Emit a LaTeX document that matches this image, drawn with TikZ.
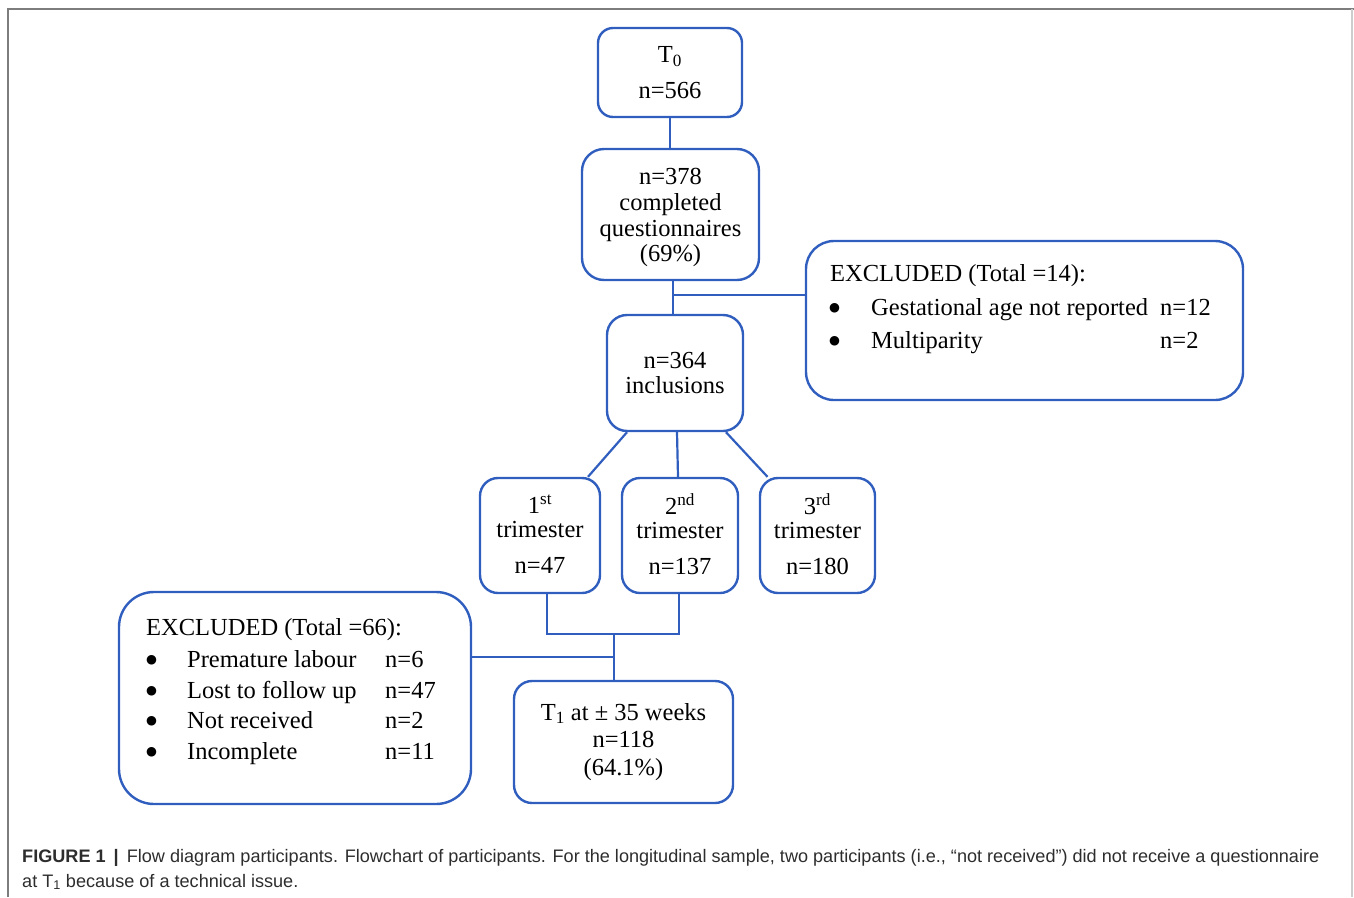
\documentclass[tikz,border=0pt]{standalone}
\usepackage{fontspec}
\setmainfont{Liberation Serif}
\newfontfamily\capfont{Liberation Sans}
\newfontfamily\bulfont{DejaVu Sans}
\usetikzlibrary{calc}
\definecolor{boxblue}{RGB}{47,94,190}
\definecolor{capgray}{RGB}{45,45,45}
\definecolor{framegray}{RGB}{125,125,125}
\definecolor{framelight}{RGB}{205,205,205}
\begin{document}
\begin{tikzpicture}[x=1pt,y=-1pt,
  box/.style={draw=boxblue, line width=2.4pt, rounded corners=#1, inner sep=0pt,
    align=center, font=\fontsize{24.5}{25.7}\selectfont},
  box/.default=18pt,
  conn/.style={draw=boxblue, line width=2.2pt},
  txt/.style={font=\fontsize{24.5}{25.7}\selectfont, inner sep=0pt, anchor=base west},
  bul/.style={font=\bulfont\fontsize{12.5}{12.5}\selectfont, inner sep=0pt, anchor=base west, yshift=4pt},
  captxt/.style={font=\capfont\fontsize{18.1}{25}\selectfont, text=capgray, inner sep=0pt, anchor=base west, align=left}]
\useasboundingbox (0,0) rectangle (1354,897);
% frame
\draw[framegray, line width=1.5pt] (8,897) -- (8,9) -- (1354,9);
\draw[framelight, line width=1.2pt] (1352,9) -- (1352,897);

% main boxes
\node[box=15pt, minimum width=144, minimum height=89] (t0) at (670,72.5)
  {T\textsubscript{0}\\[10pt] n=566};
\node[box=22pt, minimum width=177, minimum height=131] (c378) at (670.5,214.5)
  {\rule{0pt}{22.6pt}n=378\\ completed\\ questionnaires\\ (69\%)};
\node[box=20pt, minimum width=136, minimum height=116] (c364) at (675,373)
  {n=364\\ inclusions};
\node[box=18pt, minimum width=120, minimum height=115] (tri1) at (540,535.5)
  {1\textsuperscript{st}\\[-2pt] trimester\\[10pt] n=47\rule[-3pt]{0pt}{0pt}};
\node[box=18pt, minimum width=116, minimum height=115] (tri2) at (680,535.5)
  {2\textsuperscript{nd}\\[-2pt] trimester\\[10pt] n=137\rule[-3pt]{0pt}{0pt}};
\node[box=18pt, minimum width=115, minimum height=115] (tri3) at (817.5,535.5)
  {3\textsuperscript{rd}\\[-2pt] trimester\\[10pt] n=180\rule[-3pt]{0pt}{0pt}};
\node[box=18pt, minimum width=219, minimum height=122] (t1) at (623.5,742)
  {T\textsubscript{1} at ± 35 weeks\\[2pt] n=118\\[2pt] (64.1\%)};

% exclusion boxes
\node[box=28pt, minimum width=437, minimum height=159] (ex14) at (1024.5,320.5) {};
\node[txt] (ex14a) at (830,281) {EXCLUDED (Total =14):};
\node[bul] (ex14b) at (829,315) {●};
\node[txt] (ex14c) at (871,315) {Gestational age not reported};
\node[txt] (ex14d) at (1160,315) {n=12};
\node[bul] (ex14e) at (829,348) {●};
\node[txt] (ex14f) at (871,348) {Multiparity};
\node[txt] (ex14g) at (1160,348) {n=2};

\node[box=35pt, minimum width=352, minimum height=212] (ex66) at (295,698) {};
\node[txt] (ex66a) at (146,635) {EXCLUDED (Total =66):};
\node[bul] (ex66b1) at (146,667) {●};
\node[txt] (ex66c1) at (187,667) {Premature labour};
\node[txt] (ex66d1) at (385,667) {n=6};
\node[bul] (ex66b2) at (146,698) {●};
\node[txt] (ex66c2) at (187,698) {Lost to follow up};
\node[txt] (ex66d2) at (385,698) {n=47};
\node[bul] (ex66b3) at (146,728) {●};
\node[txt] (ex66c3) at (187,728) {Not received};
\node[txt] (ex66d3) at (385,728) {n=2};
\node[bul] (ex66b4) at (146,759) {●};
\node[txt] (ex66c4) at (187,759) {Incomplete};
\node[txt] (ex66d4) at (385,759) {n=11};

% connectors
\draw[conn] (t0.south) -- (t0.south |- c378.north);
\coordinate (j1) at (673,295);
\draw[conn] (c378.south -| j1) -- (c364.north -| j1);
\draw[conn] (j1) -- (ex14.west |- j1);
\draw[conn] ($(c364.south)+(-48,0)$) -- ($(tri1.north)+(48,0)$);
\draw[conn] ($(c364.south)+(2,0)$) -- ($(tri2.north)+(-2,0)$);
\draw[conn] ($(c364.south)+(51,0)$) -- ($(tri3.north)+(-50,0)$);
\coordinate (j2) at (547,634);
\coordinate (j3) at (679,634);
\coordinate (j4) at (614,634);
\coordinate (j5) at (614,657);
\draw[conn] (tri1.south -| j2) -- (j2) -- (j3) -- (tri2.south -| j3);
\draw[conn] (j4) -- (t1.north -| j4);
\draw[conn] (ex66.east |- j5) -- (j5);

% caption
\node[captxt] (cap) at (22,887) {{\bfseries FIGURE 1}\, {\bfseries |}\, Flow diagram participants. Flowchart of participants. For the longitudinal sample, two participants (i.e., “not received”) did not receive a questionnaire\\
at T\textsubscript{1} because of a technical issue.};
\end{tikzpicture}
\end{document}
